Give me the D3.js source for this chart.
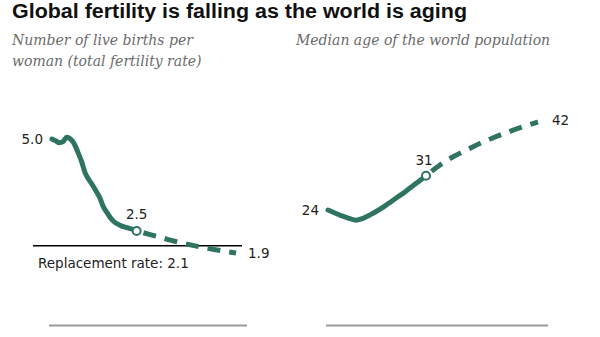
<!DOCTYPE html>
<html>
<head>
<meta charset="utf-8">
<script src="https://cdn.jsdelivr.net/npm/d3@7/dist/d3.min.js"></script>
<style>
  html, body { margin: 0; padding: 0; background: #fff; }
  svg { display: block; }
  .title { font-family: "Liberation Sans Narrow", "Arial Narrow", "Liberation Sans", sans-serif; font-weight: bold; font-size: 20px; fill: #111; }
  .subtitle { font-family: "DejaVu Serif", Georgia, serif; font-style: italic; font-size: 14px; fill: #6b6b6b; }
  .num { font-family: "DejaVu Sans", sans-serif; font-size: 13.5px; fill: #222; }
</style>
</head>
<body>
<svg id="chart"></svg>
<script>
// Total fertility rate, world (estimates to 2019, projections to 2100)
const fertYears = [1950, 1953, 1956, 1959, 1962, 1965, 1968, 1971, 1974, 1977, 1980, 1983, 1986, 1989, 1992, 1995, 1998, 2001, 2004, 2007, 2010, 2013, 2016, 2019];
const fertValues = [5.0, 4.95, 4.9, 4.93, 5.05, 5.0, 4.88, 4.65, 4.4, 4.08, 3.9, 3.75, 3.58, 3.4, 3.15, 2.99, 2.84, 2.74, 2.68, 2.63, 2.6, 2.57, 2.54, 2.5];
const fertProjYears = [2019, 2030, 2040, 2050, 2060, 2070, 2080, 2090, 2100];
const fertProjValues = [2.5, 2.4, 2.31, 2.22, 2.14, 2.07, 2.01, 1.95, 1.9];
const replacementRate = 2.1;

// Median age of the world population
const ageYears = [1950, 1955, 1960, 1965, 1970, 1975, 1980, 1985, 1990, 1995, 2000, 2005, 2010, 2015, 2020];
const ageValues = [24, 23.4, 22.8, 22.3, 21.9, 22.3, 23.0, 23.8, 24.7, 25.7, 26.7, 27.7, 28.8, 29.9, 31];
const ageProjYears = [2020, 2030, 2040, 2050, 2060, 2070, 2080, 2090, 2100];
const ageProjValues = [31, 33.2, 35.0, 36.4, 37.8, 39.0, 40.1, 41.1, 42];

const width = 600, height = 337;
const green = "#2f7461";

const svg = d3.select("#chart").attr("width", width).attr("height", height);
svg.append("rect").attr("width", width).attr("height", height).attr("fill", "#fff");

svg.append("text").attr("class", "title")
    .attr("x", 12).attr("y", 18)
    .attr("textLength", 455).attr("lengthAdjust", "spacingAndGlyphs")
    .text("Global fertility is falling as the world is aging");

const subLeft = svg.append("text").attr("class", "subtitle").attr("x", 12).attr("y", 45);
subLeft.append("tspan").attr("x", 12).text("Number of live births per");
subLeft.append("tspan").attr("x", 12).attr("dy", 21).text("woman (total fertility rate)");
svg.append("text").attr("class", "subtitle").attr("x", 296).attr("y", 45)
    .text("Median age of the world population");

// draw one panel: solid estimate line, dashed projection, hollow marker at the split
function drawPanel(x, y, years, values, projYears, projValues) {
    const line = d3.line()
        .x(d => x(d[0]))
        .y(d => y(d[1]))
        .curve(d3.curveMonotoneX);
    const g = svg.append("g");
    g.append("path")
        .datum(d3.zip(years, values))
        .attr("d", line)
        .attr("fill", "none")
        .attr("stroke", green)
        .attr("stroke-width", 5)
        .attr("stroke-linecap", "round")
        .attr("stroke-linejoin", "round");
    g.append("path")
        .datum(d3.zip(projYears, projValues))
        .attr("d", line)
        .attr("fill", "none")
        .attr("stroke", green)
        .attr("stroke-width", 5)
        .attr("stroke-dasharray", "13 9")
        .attr("stroke-dashoffset", -7);
    const last = years.length - 1;
    g.append("circle")
        .attr("cx", x(years[last])).attr("cy", y(values[last]))
        .attr("r", 4)
        .attr("fill", "#fff")
        .attr("stroke", green)
        .attr("stroke-width", 2);
    return g;
}

// Left panel: fertility
const xFert = d3.scaleLinear().domain([1950, 2100]).range([52, 236]);
const yFert = d3.scaleLinear().domain([1.9, 5.0]).range([253, 139]);

svg.append("line")
    .attr("x1", 33).attr("x2", 242)
    .attr("y1", yFert(replacementRate)).attr("y2", yFert(replacementRate))
    .attr("stroke", "#000").attr("stroke-width", 1.5);
svg.append("text").attr("class", "num")
    .attr("x", 38).attr("y", 268)
    .text("Replacement rate: " + replacementRate.toFixed(1));

const gFert = drawPanel(xFert, yFert, fertYears, fertValues, fertProjYears, fertProjValues);
gFert.append("text").attr("class", "num")
    .attr("x", xFert(fertYears[0]) - 9).attr("y", yFert(fertValues[0]))
    .attr("dy", "0.35em").attr("text-anchor", "end")
    .text(fertValues[0].toFixed(1));
gFert.append("text").attr("class", "num")
    .attr("x", xFert(fertYears[fertYears.length - 1])).attr("y", yFert(fertValues[fertValues.length - 1]) - 12)
    .attr("text-anchor", "middle")
    .text(fertValues[fertValues.length - 1].toFixed(1));
gFert.append("text").attr("class", "num")
    .attr("x", xFert(2100) + 12).attr("y", yFert(fertProjValues[fertProjValues.length - 1]))
    .attr("dy", "0.35em")
    .text(fertProjValues[fertProjValues.length - 1].toFixed(1));

// Right panel: median age
const xAge = d3.scaleLinear().domain([1950, 2100]).range([328, 538]);
const yAge = d3.scaleLinear().domain([24, 42]).range([210, 122]);

const gAge = drawPanel(xAge, yAge, ageYears, ageValues, ageProjYears, ageProjValues);
gAge.append("text").attr("class", "num")
    .attr("x", xAge(ageYears[0]) - 9).attr("y", yAge(ageValues[0]))
    .attr("dy", "0.35em").attr("text-anchor", "end")
    .text(ageValues[0]);
gAge.append("text").attr("class", "num")
    .attr("x", xAge(2020) - 2).attr("y", yAge(31) - 11)
    .attr("text-anchor", "middle")
    .text(ageValues[ageValues.length - 1]);
gAge.append("text").attr("class", "num")
    .attr("x", xAge(2100) + 14).attr("y", yAge(ageProjValues[ageProjValues.length - 1]) - 2)
    .attr("dy", "0.35em")
    .text(ageProjValues[ageProjValues.length - 1]);

// gray rules under each panel
[[49, 247], [326, 548]].forEach(([a, b]) => {
    svg.append("line")
        .attr("x1", a).attr("x2", b)
        .attr("y1", 325.5).attr("y2", 325.5)
        .attr("stroke", "#9a9a9a").attr("stroke-width", 2);
});
</script>
</body>
</html>
